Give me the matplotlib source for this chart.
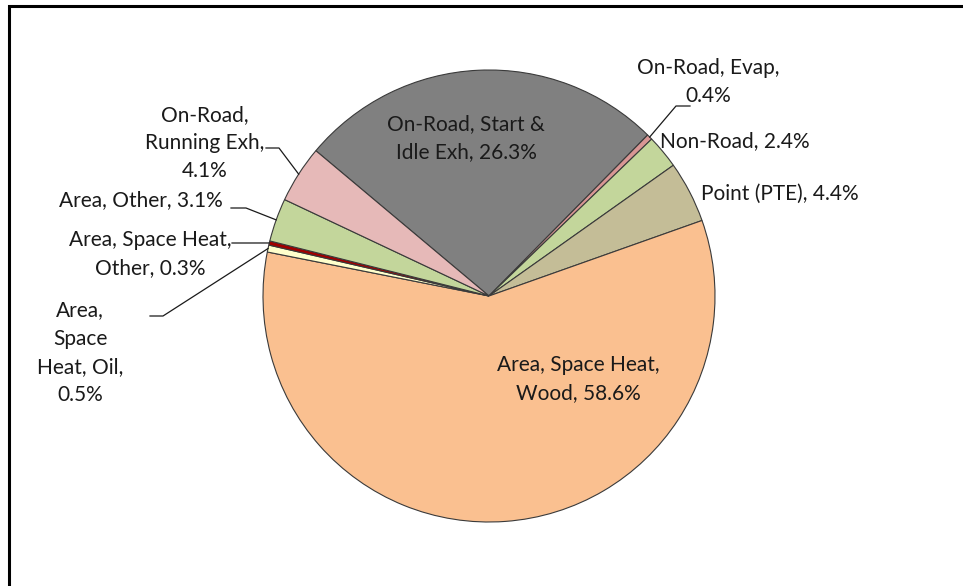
import matplotlib
matplotlib.use("Agg")
import matplotlib.pyplot as plt
import numpy as np

categories = ["On-Road, Start &\nIdle Exh", "On-Road, Evap", "Non-Road", "Point (PTE)",
              "Area, Space Heat,\nWood", "Area,\nSpace\nHeat, Oil", "Area, Space Heat,\nOther",
              "Area, Other", "On-Road,\nRunning Exh"]
values = [26.3, 0.4, 2.4, 4.4, 58.6, 0.5, 0.3, 3.1, 4.1]
label_texts = ["On-Road, Start &\nIdle Exh, 26.3%", "On-Road, Evap,\n0.4%", "Non-Road, 2.4%",
               "Point (PTE), 4.4%", "Area, Space Heat,\nWood, 58.6%", "Area,\nSpace\nHeat, Oil,\n0.5%",
               "Area, Space Heat,\nOther, 0.3%", "Area, Other, 3.1%", "On-Road,\nRunning Exh,\n4.1%"]
colors = ["#808080", "#d99694", "#c3d69b", "#c4bd97", "#fac090", "#ffffcc", "#a00000",
          "#c3d69b", "#e6b9b8"]

W, H = 963, 586
fig = plt.figure(figsize=(W / 100, H / 100), dpi=100)
fig.patch.set_facecolor("white")

cx, cy, R = 489, 296, 226
ax = fig.add_axes([(cx - R) / W, (H - cy - R) / H, 2 * R / W, 2 * R / H])
ax.set_axis_off()

wedges, _ = ax.pie(values, colors=colors, startangle=140, counterclock=False, radius=1,
                   wedgeprops=dict(edgecolor="#3a3a3a", linewidth=0.8))
ax.set_xlim(-1, 1)
ax.set_ylim(-1, 1)
ax.set_aspect("equal")


def px(x, y):
    return ((x - cx) / R, (cy - y) / R)


def edge_point(w):
    t = np.deg2rad((w.theta1 + w.theta2) / 2)
    return np.cos(t), np.sin(t)


font = dict(family=["Lato", "DejaVu Sans"], fontsize=15, color="#1a1a1a",
            linespacing=1.52)

# label layout: (pixel center), alignment, leader elbow points in pixels
layout = {
    0: ((466, 138), "center", None),
    1: ((708, 82), "center", [(690, 106), (676, 106)]),
    2: ((735, 141), "center", None),
    3: ((780, 194), "center", None),
    4: ((578, 379), "center", None),
    5: ((80, 353), "center", [(150, 316), (163, 316)]),
    6: ((150, 254), "center", [(232, 243), (250, 243)]),
    7: ((141, 200), "center", [(231, 208), (246, 208)]),
    8: ((205, 143), "center", [(266, 148), (279, 148)]),
}

for i, w in enumerate(wedges):
    (lx, ly), ha, leader = layout[i]
    x, y = px(lx, ly)
    ax.text(x, y, label_texts[i], ha=ha, va="center", multialignment="center", **font)
    if leader is not None:
        ex, ey = edge_point(w)
        pts = [px(*p) for p in leader] + [(ex, ey)]
        xs = [p[0] for p in pts]
        ys = [p[1] for p in pts]
        ax.plot(xs, ys, color="#1a1a1a", linewidth=0.9, clip_on=False)

# chart border (top and left visible)
border = plt.Rectangle((8.5 / W, -0.05), 1.1, (H - 5.5) / H + 0.05, transform=fig.transFigure,
                       fill=False, edgecolor="#000000", linewidth=2.2)
fig.add_artist(border)

fig.savefig("out.png", dpi=100)
